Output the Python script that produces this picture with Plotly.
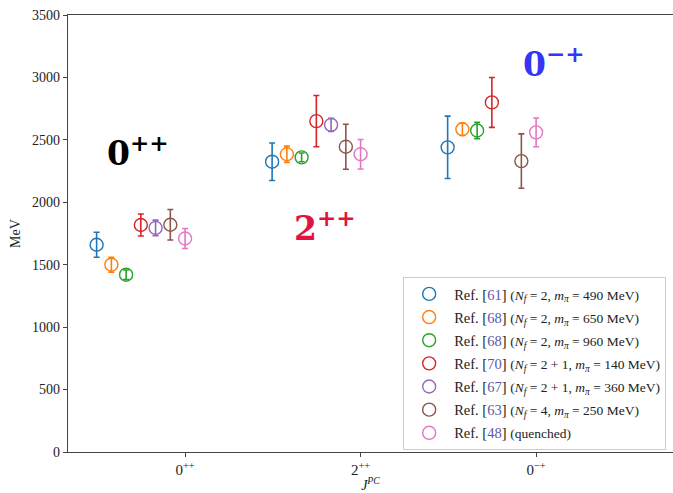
import plotly.graph_objects as go

categories = ["0<sup>++</sup>", "2<sup>++</sup>", "0<sup>\u2212+</sup>"]

ref_numbers = ["61", "68", "68", "70", "67", "63", "48"]
ref_details = [
    "(<i>N<sub>f</sub></i> = 2, <i>m<sub>\u03c0</sub></i> = 490 MeV)",
    "(<i>N<sub>f</sub></i> = 2, <i>m<sub>\u03c0</sub></i> = 650 MeV)",
    "(<i>N<sub>f</sub></i> = 2, <i>m<sub>\u03c0</sub></i> = 960 MeV)",
    "(<i>N<sub>f</sub></i> = 2 + 1, <i>m<sub>\u03c0</sub></i> = 140 MeV)",
    "(<i>N<sub>f</sub></i> = 2 + 1, <i>m<sub>\u03c0</sub></i> = 360 MeV)",
    "(<i>N<sub>f</sub></i> = 4, <i>m<sub>\u03c0</sub></i> = 250 MeV)",
    "(quenched)",
]

# masses (MeV) per series for [0++, 2++, 0-+]
mass_ref61 = [1660, 2325, 2440]
mass_ref68a = [1500, 2385, 2585]
mass_ref68b = [1420, 2360, 2575]
mass_ref70 = [1818, 2650, 2800]
mass_ref67 = [1795, 2620, None]
mass_ref63 = [1820, 2445, 2330]
mass_ref48 = [1710, 2385, 2560]

err_ref61 = [100, 150, 250]
err_ref68a = [60, 65, 50]
err_ref68b = [38, 35, 65]
err_ref70 = [88, 205, 200]
err_ref67 = [62, 52, None]
err_ref63 = [122, 180, 218]
err_ref48 = [80, 118, 115]

masses = [mass_ref61, mass_ref68a, mass_ref68b, mass_ref70, mass_ref67, mass_ref63, mass_ref48]
errors = [err_ref61, err_ref68a, err_ref68b, err_ref70, err_ref67, err_ref63, err_ref48]

colors = ["#1f77b4", "#ff7f0e", "#2ca02c", "#d62728", "#9467bd", "#8c564b", "#e377c2"]
link_color = "#5a5aa8"
step = 0.084

fig = go.Figure()
n = len(masses)
for j in range(n):
    xs = [i + (j - (n - 1)) * step for i in range(len(categories))]
    name = (f"Ref. [<span style='color:{link_color}'>{ref_numbers[j]}</span>] "
            f"<span style='font-size:13.5px'>{ref_details[j]}</span>")
    fig.add_trace(go.Scatter(
        x=xs, y=masses[j], mode="markers", name=name,
        marker=dict(symbol="circle-open", size=13, color=colors[j], line=dict(width=1.4, color=colors[j])),
        error_y=dict(type="data", array=errors[j], visible=True, color=colors[j], thickness=1.6, width=3),
        legendgroup=str(j),
    ))

label_font = "DejaVu Serif"
fig.add_annotation(x=-0.27, y=2410, xref="x", yref="y", text="<b>0<sup>++</sup></b>",
                   showarrow=False, font=dict(family=label_font, size=33, color="black"))
fig.add_annotation(x=0.80, y=1810, xref="x", yref="y", text="<b>2<sup>++</sup></b>",
                   showarrow=False, font=dict(family=label_font, size=33, color="#e3123f"))
fig.add_annotation(x=2.10, y=3120, xref="x", yref="y", text="<b>0<sup>\u2212+</sup></b>",
                   showarrow=False, font=dict(family=label_font, size=33, color="#3535f5"))

fig.update_layout(
    width=673, height=493,
    margin=dict(l=68, r=0, t=15, b=41),
    paper_bgcolor="white", plot_bgcolor="white",
    font=dict(family="Liberation Serif", size=14, color="#222"),
    showlegend=True,
    legend=dict(x=0.554, y=0.4005, xanchor="left", yanchor="top",
                bgcolor="white", bordercolor="#cccccc", borderwidth=1,
                font=dict(family="Liberation Serif", size=14.5, color="#222"),
                tracegroupgap=1.3, itemwidth=40),
    xaxis=dict(range=[-0.667, 2.78], tickmode="array", tickvals=[0, 1, 2], ticktext=categories,
               showgrid=False, zeroline=False, showline=True, linecolor="#444", linewidth=1.2,
               mirror=True, ticks="outside", ticklen=4, tickcolor="#444", automargin=False,
               tickfont=dict(size=15),
               title=dict(text="<i>J<sup>PC</sup></i>", standoff=4, font=dict(size=14))),
    yaxis=dict(range=[0, 3500], tickmode="array", tickvals=list(range(0, 3501, 500)),
               showgrid=False, zeroline=False, showline=True, linecolor="#444", linewidth=1.2,
               ticks="outside", ticklen=4, tickcolor="#444", automargin=False,
               tickfont=dict(size=14),
               title=dict(text="MeV", standoff=8, font=dict(size=14))),
)

fig.write_html("out.html", config={"displayModeBar": False},
               post_script="document.body.style.margin='0';document.body.style.overflow='hidden';")
